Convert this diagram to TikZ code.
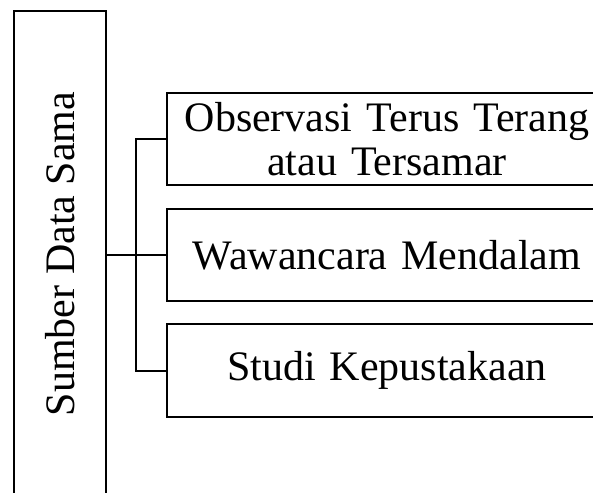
\documentclass[tikz,border=0pt]{standalone}
\usepackage{fontspec}
\setmainfont{Liberation Serif}
\begin{document}
\begin{tikzpicture}[x=1pt,y=-1pt,
  box/.style={draw=black,line width=2pt,inner sep=0pt,align=center,
    font=\fontsize{42}{44}\selectfont},
  link/.style={draw=black,line width=2pt}]
\useasboundingbox (0,0) rectangle (593,492);
\begin{scope}
\clip (0,0) rectangle (593,492);
% tall source box on the left
\node[box,minimum width=92pt,minimum height=500pt] (src) at (60,261) {};
\node[font=\fontsize{42}{44}\selectfont,rotate=90] (srclabel) at (60,254) {Sumber Data Sama};
% three technique boxes
\node[box,minimum width=440pt,minimum height=92pt,text width=440pt] (b1) at (387,139)
  {Observasi Terus Terang\\atau Tersamar};
\node[box,minimum width=440pt,minimum height=92pt,text width=440pt] (b2) at (387,255)
  {Wawancara Mendalam};
\node[box,minimum width=440pt,minimum height=93pt,text width=440pt] (b3) at (387,370.5)
  {Studi Kepustakaan};
% bracket connectors
\coordinate (junc) at (136,255);
\draw[link] (src.east |- b2.west) -- (b2.west);
\draw[link] (b1.west) -- (b1.west -| junc) -- (b3.west -| junc) -- (b3.west);
\end{scope}
\end{tikzpicture}
\end{document}
